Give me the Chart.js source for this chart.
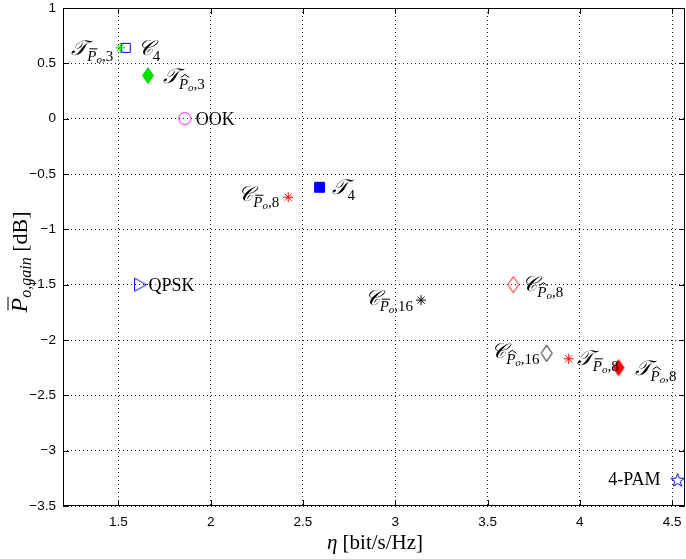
<!DOCTYPE html>
<html>
<head>
<meta charset="utf-8">
<script src="https://cdn.jsdelivr.net/npm/chart.js@4.4.0/dist/chart.umd.min.js"></script>
<style>
  html, body { margin: 0; padding: 0; background: #fff; }
  canvas { display: block; }
</style>
</head>
<body>
<canvas id="chart" width="686" height="559"></canvas>
<script>
// ===== Data =====
const schemes = ["T_Pbar3", "C4", "T_Phat3", "OOK", "C_Pbar8", "T4", "QPSK",
                 "C_Pbar16", "C_Phat8", "C_Phat16", "T_Pbar8", "T_Phat8", "4-PAM"];
const etaValues  = [1.51, 1.54, 1.66, 1.86, 2.42, 2.59, 1.62, 3.14, 3.64, 3.82, 3.94, 4.21, 4.53];
const gainValues = [0.64, 0.64, 0.39, 0, -0.71, -0.62, -1.5, -1.64, -1.5, -2.12, -2.17, -2.25, -3.26];
// label text: [script letter, accent on P, index] or plain string
const labelParts = [
  ["𝒯", "bar", "3"], ["𝒞", null, "4"], ["𝒯", "hat", "3"], "OOK",
  ["𝒞", "bar", "8"], ["𝒯", null, "4"], "QPSK", ["𝒞", "bar", "16"],
  ["𝒞", "hat", "8"], ["𝒞", "hat", "16"], ["𝒯", "bar", "8"], ["𝒯", "hat", "8"], "4-PAM"
];
const xTicks = [1.5, 2, 2.5, 3, 3.5, 4, 4.5];
const yTicks = [1, 0.5, 0, -0.5, -1, -1.5, -2, -2.5, -3, -3.5];

// ===== Styles =====
const GREEN = "#00e000", BLUE = "#0000ff", RED = "#ff0000", MAG = "#ff00ff", BLK = "#000000";
const markerDefs = [
  { shape: "asterisk", color: GREEN },
  { shape: "square", color: BLUE, w: 9 },
  { shape: "diamond", color: GREEN, fill: true, w: 11, h: 16 },
  { shape: "circle", color: MAG, w: 12 },
  { shape: "asterisk", color: RED },
  { shape: "square", color: BLUE, fill: true, w: 10 },
  { shape: "triRight", color: BLUE, w: 12, h: 13 },
  { shape: "asterisk", color: BLK },
  { shape: "diamond", color: RED, w: 11, h: 16 },
  { shape: "diamond", color: BLK, w: 11, h: 16 },
  { shape: "asterisk", color: RED },
  { shape: "diamond", color: RED, fill: true, w: 11, h: 16 },
  { shape: "star", color: BLUE, w: 14 }
];
// label placement relative to the marker: side, horizontal gap, vertical shift
const labelPlace = [
  ["right", -7, 0], ["left", 12, 0], ["left", 15, 0], ["left", 11, 0], ["right", -9, -3], ["left", 12, 0],
  ["left", 8, 0], ["right", -8, -2], ["left", 9, -1], ["right", -7, -2], ["left", 8, -1], ["left", 16, 0],
  ["right", -17, 0]
];

function makeMarker(def) {
  const w = def.w || 10, h = def.h || w;
  const c = document.createElement("canvas");
  c.width = w + 3; c.height = h + 3;
  const g = c.getContext("2d");
  const cx = c.width / 2, cy = c.height / 2;
  g.strokeStyle = def.color; g.fillStyle = def.color; g.lineWidth = 1;
  g.beginPath();
  if (def.shape === "square") {
    g.rect(cx - w / 2, cy - h / 2, w, h);
  } else if (def.shape === "circle") {
    g.arc(cx, cy, w / 2, 0, Math.PI * 2);
  } else if (def.shape === "diamond") {
    g.moveTo(cx, cy - h / 2); g.lineTo(cx + w / 2, cy); g.lineTo(cx, cy + h / 2); g.lineTo(cx - w / 2, cy); g.closePath();
  } else if (def.shape === "triRight") {
    g.moveTo(cx + w / 2, cy); g.lineTo(cx - w / 2, cy - h / 2); g.lineTo(cx - w / 2, cy + h / 2); g.closePath();
  } else if (def.shape === "star") {
    const R = w / 2, r = R * 0.42;
    for (let i = 0; i < 10; i++) {
      const a = -Math.PI / 2 + i * Math.PI / 5, rr = i % 2 ? r : R;
      const px = cx + rr * Math.cos(a), py = cy + 1 + rr * Math.sin(a);
      i ? g.lineTo(px, py) : g.moveTo(px, py);
    }
    g.closePath();
  }
  if (def.fill) g.fill();
  g.stroke();
  return c;
}

const datasets = schemes.map((name, i) => {
  const def = markerDefs[i];
  const ds = {
    label: name,
    data: [{ x: etaValues[i], y: gainValues[i] }],
    showLine: false,
    borderColor: def.color,
    backgroundColor: def.color,
    borderWidth: 1
  };
  if (def.shape === "asterisk") { ds.pointStyle = "star"; ds.pointRadius = 5; }
  else { ds.pointStyle = makeMarker(def); ds.pointRadius = 6; }
  return ds;
});

// ===== Text helpers =====
const SERIF = "'Liberation Serif', 'DejaVu Serif', serif";
function drawSegs(ctx, segs, x, y, align) {
  let w = 0;
  segs.forEach(s => { ctx.font = s.font; s.w = ctx.measureText(s.t).width; w += s.w; });
  let cx = align === "right" ? x - w : align === "center" ? x - w / 2 : x;
  ctx.textAlign = "left"; ctx.textBaseline = "alphabetic"; ctx.fillStyle = "#000";
  segs.forEach(s => {
    ctx.font = s.font;
    ctx.fillText(s.t, cx, y + (s.dy || 0));
    if (s.acc) {
      const ay = y + (s.dy || 0) - (s.accY || 11);
      ctx.strokeStyle = "#000"; ctx.lineWidth = 1; ctx.beginPath();
      if (s.acc === "bar") { ctx.moveTo(cx + 2, ay); ctx.lineTo(cx + s.w + 1, ay); }
      else { ctx.moveTo(cx + 2, ay + 1); ctx.lineTo(cx + s.w / 2 + 1.5, ay - 2); ctx.lineTo(cx + s.w + 1, ay + 1); }
      ctx.stroke();
    }
    cx += s.w;
  });
}
function labelSegs(parts) {
  if (typeof parts === "string") return [{ t: parts, font: "18px " + SERIF, dy: 6 }];
  const segs = [{ t: parts[0], font: "italic 21px 'DejaVu Serif', serif", dy: 7 }];
  if (parts[1]) {
    segs.push({ t: "P", font: "italic 15px " + SERIF, dy: 13, acc: parts[1], accY: 12 });
    segs.push({ t: "o", font: "italic 11px " + SERIF, dy: 15 });
    segs.push({ t: "," + parts[2], font: "15px " + SERIF, dy: 13 });
  } else {
    segs.push({ t: parts[2], font: "15px " + SERIF, dy: 13 });
  }
  return segs;
}

// ===== Frame, inward ticks, labels, axis titles =====
const decorPlugin = {
  id: "decor",
  afterDatasetsDraw(chart) {
    const { ctx, chartArea: a, scales: { x, y } } = chart;
    ctx.save();
    ctx.strokeStyle = "#000"; ctx.lineWidth = 1;
    ctx.strokeRect(a.left + 0.5, a.top + 0.5, a.right - a.left - 1, a.bottom - a.top - 1);
    ctx.beginPath();
    const TL = 6;
    xTicks.forEach(v => {
      const px = Math.round(x.getPixelForValue(v)) + 0.5;
      ctx.moveTo(px, a.bottom); ctx.lineTo(px, a.bottom - TL);
      ctx.moveTo(px, a.top); ctx.lineTo(px, a.top + TL);
    });
    yTicks.forEach(v => {
      const py = Math.round(y.getPixelForValue(v)) + 0.5;
      ctx.moveTo(a.left, py); ctx.lineTo(a.left + TL, py);
      ctx.moveTo(a.right, py); ctx.lineTo(a.right - TL, py);
    });
    ctx.stroke();

    // point labels
    labelParts.forEach((parts, i) => {
      const px = x.getPixelForValue(etaValues[i]);
      const py = y.getPixelForValue(gainValues[i]);
      const [side, gap, shift] = labelPlace[i];
      drawSegs(ctx, labelSegs(parts), px + gap, py + shift, side);
    });

    // x title
    drawSegs(ctx, [
      { t: "η", font: "italic 21px " + SERIF },
      { t: " [bit/s/Hz]", font: "21px " + SERIF }
    ], 375, 549, "center");

    // y title
    ctx.translate(27, 262);
    ctx.rotate(-Math.PI / 2);
    drawSegs(ctx, [
      { t: "P", font: "italic 24px " + SERIF, acc: "bar", accY: 19 },
      { t: "o,gain", font: "italic 16px " + SERIF, dy: 4 },
      { t: " [dB]", font: "22px " + SERIF }
    ], 0, 0, "center");
    ctx.restore();
  }
};

const gridOpts = {
  color: "rgba(0,0,0,0.85)",
  lineWidth: 1,
  drawTicks: false
};
const tickFont = { family: "'Liberation Sans', Arial, sans-serif", size: 13.5 };

new Chart(document.getElementById("chart"), {
  type: "scatter",
  data: { datasets },
  options: {
    responsive: false,
    animation: false,
    events: [],
    layout: { autoPadding: false, padding: { top: 8, right: 1, left: 0, bottom: 0 } },
    plugins: { legend: { display: false }, tooltip: { enabled: false } },
    scales: {
      x: {
        type: "linear", min: 1.2, max: 4.57,
        afterBuildTicks: s => { s.ticks = xTicks.map(v => ({ value: v })); },
        afterFit: s => { s.height = 53; s.paddingLeft = 0; s.paddingRight = 0; },
        grid: gridOpts,
        border: { display: false, dash: [1, 3] },
        ticks: { padding: 8, color: "#000", font: tickFont, maxRotation: 0, callback: v => String(v) }
      },
      y: {
        type: "linear", min: -3.5, max: 1,
        afterBuildTicks: s => { s.ticks = yTicks.map(v => ({ value: v })); },
        afterFit: s => { s.width = 63; s.paddingTop = 0; s.paddingBottom = 0; },
        grid: gridOpts,
        border: { display: false, dash: [1, 3] },
        ticks: { padding: 7, color: "#000", font: tickFont, callback: v => String(v).replace("-", "−") }
      }
    }
  },
  plugins: [decorPlugin]
});
</script>
</body>
</html>
